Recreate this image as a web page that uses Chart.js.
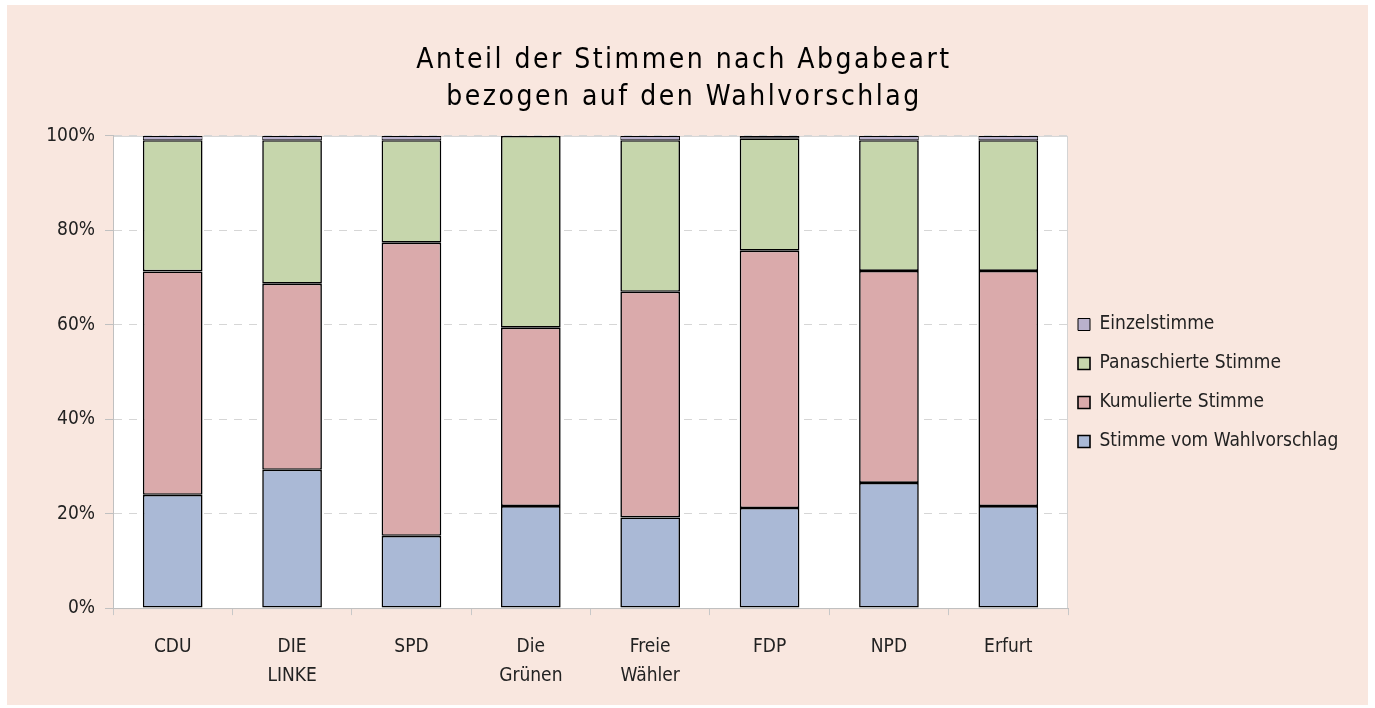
<!DOCTYPE html>
<html>
<head>
<meta charset="utf-8">
<script src="https://cdn.jsdelivr.net/npm/chart.js@4.4.1/dist/chart.umd.min.js"></script>
<style>
  body { margin: 0; background: #fff; }
  #wrap { width: 1375px; height: 708px; }
</style>
</head>
<body>
<div id="wrap"><canvas id="StimmenChart"></canvas></div>
<script>
var categories = [['CDU'], ['DIE', 'LINKE'], ['SPD'], ['Die', 'Grünen'], ['Freie', 'Wähler'], ['FDP'], ['NPD'], ['Erfurt']];
var seriesNames = ['Stimme vom Wahlvorschlag', 'Kumulierte Stimme', 'Panaschierte Stimme', 'Einzelstimme'];

var stimmeVomWahlvorschlag = [24.0, 29.3, 15.3, 21.6, 19.2, 21.2, 26.5, 21.6];
var kumulierteStimme = [47.3, 39.4, 62.1, 37.8, 47.8, 54.5, 44.9, 49.8];
var panaschierteStimme = [27.8, 30.4, 21.7, 40.6, 32.1, 23.8, 27.7, 27.7];
var einzelstimme = [0.9, 0.9, 0.9, 0.0, 0.9, 0.5, 0.9, 0.9];

var yTicks = [0, 20, 40, 60, 80, 100];

var fontName = "'Liberation Sans Narrow', 'DejaVu Sans Condensed', 'Open Sans', sans-serif";

function bars(label, values, color, bw) {
    return {
        label: label,
        data: values,
        backgroundColor: color,
        borderColor: '#000',
        borderWidth: bw,
        borderSkipped: false,
        barPercentage: 0.5,
        categoryPercentage: 1.0
    };
}

var data = {
    labels: categories,
    datasets: [
        bars(seriesNames[0], stimmeVomWahlvorschlag, '#AAB9D6', 1.6),
        bars(seriesNames[1], kumulierteStimme, '#DAAAAB', 1.6),
        bars(seriesNames[2], panaschierteStimme, '#C6D6AC', 1.6),
        bars(seriesNames[3], einzelstimme, '#B9B1CC', 1)
    ]
};

// pink panel, white plot area with light frame
var panel = {
    id: 'panel',
    beforeDraw: function (chart) {
        var ctx = chart.ctx, a = chart.chartArea;
        ctx.save();
        ctx.fillStyle = '#fff';
        ctx.fillRect(0, 0, chart.width, chart.height);
        ctx.fillStyle = '#F9E7DF';
        ctx.fillRect(7, 5, chart.width - 14, chart.height - 8);
        ctx.fillStyle = '#fff';
        ctx.fillRect(a.left, a.top, a.right - a.left, a.bottom - a.top);
        ctx.strokeStyle = '#d4d4d4';
        ctx.lineWidth = 1;
        ctx.strokeRect(a.left + 0.5, a.top + 0.5, a.right - a.left - 1, a.bottom - a.top);
        ctx.restore();
    }
};

// legend: fixed width, nudged to sit where the original one does; spaced title
var tweaks = {
    id: 'tweaks',
    beforeUpdate: function (chart) {
        var lg = chart.legend;
        if (lg && !lg._patched) {
            var fit = lg.fit;
            lg.fit = function () { fit.call(this); this.width = 300; };
            lg._patched = true;
        }
        var tb = chart.titleBlock;
        if (tb && !tb._patched) {
            var draw = tb.draw;
            tb.draw = function () {
                var ctx = this.ctx;
                var old = ctx.letterSpacing;
                ctx.letterSpacing = '2.5px';
                draw.apply(this, arguments);
                ctx.letterSpacing = old || '0px';
            };
            tb._patched = true;
        }
    },
    afterLayout: function (chart) {
        var lg = chart.legend;
        lg.left -= 10;
        lg.right -= 10;
        lg.top += 29;
        lg.bottom += 29;
    }
};

var config = {
    type: 'bar',
    data: data,
    options: {
        responsive: true,
        maintainAspectRatio: false,
        animation: false,
        layout: { padding: { top: 0, right: 7, bottom: 0, left: 0 } },
        plugins: {
            title: {
                display: true,
                text: ['Anteil der Stimmen nach Abgabeart', 'bezogen auf den Wahlvorschlag'],
                color: '#000',
                font: { family: fontName, size: 28, weight: 'normal', lineHeight: 1.32 },
                padding: { top: 42, bottom: 20 }
            },
            legend: {
                position: 'right',
                reverse: true,
                labels: {
                    boxWidth: 12,
                    boxHeight: 12,
                    padding: 20,
                    color: '#222',
                    font: { family: fontName, size: 19 }
                }
            },
            tooltip: { enabled: false }
        },
        scales: {
            x: {
                stacked: true,
                grid: { drawOnChartArea: false, drawTicks: true, tickLength: 7, color: '#c8c8c8' },
                border: { color: '#c0c0c0' },
                ticks: {
                    color: '#222',
                    padding: 17,
                    font: { family: fontName, size: 19, lineHeight: 1.55 }
                }
            },
            y: {
                stacked: true,
                min: 0,
                max: 100,
                afterBuildTicks: function (scale) {
                    scale.ticks = yTicks.map(function (v) { return { value: v }; });
                },
                afterFit: function (scale) { scale.width = 113; },
                grid: { color: '#d6d6d6', tickLength: 8, tickColor: '#c0c0c0' },
                border: { color: '#c0c0c0', dash: [8, 7] },
                ticks: {
                    color: '#222',
                    padding: 10,
                    font: { family: fontName, size: 19 },
                    callback: function (v) { return v + '%'; }
                }
            }
        }
    },
    plugins: [panel, tweaks]
};

var stimmenChart = new Chart(document.getElementById('StimmenChart'), config);
</script>
</body>
</html>
